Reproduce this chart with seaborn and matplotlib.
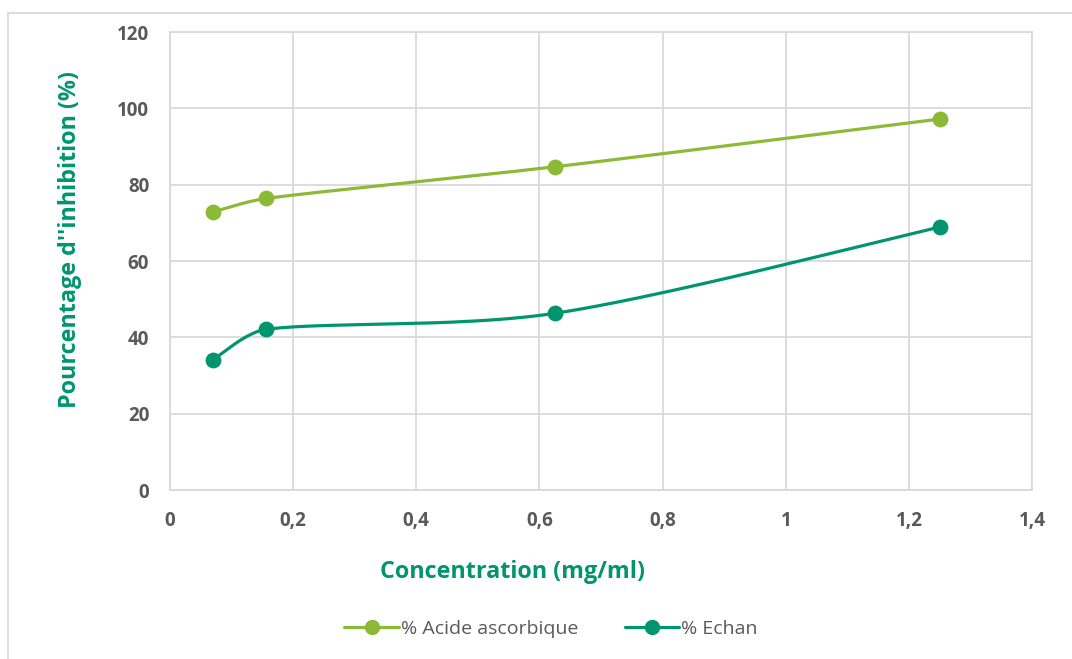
import numpy as np
import pandas as pd
import matplotlib
matplotlib.use("Agg")
import matplotlib.pyplot as plt
from matplotlib.lines import Line2D
from matplotlib.patches import Rectangle
import seaborn as sns

# data
concentration = [0.07, 0.156, 0.625, 1.25]
acide_ascorbique = [72.9, 76.4, 84.7, 97.2]
echan = [34.2, 42.1, 46.3, 68.9]
series_names = ["% Acide ascorbique", "% Echan"]
x_ticks = [0, 0.2, 0.4, 0.6, 0.8, 1, 1.2, 1.4]
y_ticks = [0, 20, 40, 60, 80, 100, 120]

GREEN = "#8CBA36"
TEAL = "#00956F"
GREY_TXT = "#595959"
GRID = "#D9D9D9"

sns.set_theme(style="white")
plt.rcParams["font.family"] = ["Open Sans", "DejaVu Sans"]


def smooth(xs, ys, sx, sy, n=60):
    # Excel-like smoothed line: bezier with catmull-rom tangents, clamped to segment length
    p = np.column_stack([np.array(xs) * sx, np.array(ys) * sy])
    pts = np.vstack([p[0], p, p[-1]])
    out = []
    t = np.linspace(0, 1, n)[:, None]
    for i in range(1, len(pts) - 2):
        p0, p1, p2, p3 = pts[i - 1], pts[i], pts[i + 1], pts[i + 2]
        L = np.linalg.norm(p2 - p1)
        t1 = (p2 - p0) / 6
        t2 = (p3 - p1) / 6
        if np.linalg.norm(t1) > L / 3:
            t1 = t1 / np.linalg.norm(t1) * L / 3
        if np.linalg.norm(t2) > L / 3:
            t2 = t2 / np.linalg.norm(t2) * L / 3
        c1 = p1 + t1
        c2 = p2 - t2
        seg = ((1 - t) ** 3) * p1 + 3 * ((1 - t) ** 2) * t * c1 + 3 * (1 - t) * t ** 2 * c2 + t ** 3 * p2
        out.append(seg if i == 1 else seg[1:])
    out = np.vstack(out)
    return out[:, 0] / sx, out[:, 1] / sy


fig = plt.figure(figsize=(10.72, 6.59), dpi=100)
ax = fig.add_axes([0.1586, 0.2564, 0.8041, 0.695])

# pixel scale factors so the smoothing matches the drawn aspect
sx, sy = 862 / 1.4, 458 / 120
for ys, col in [(acide_ascorbique, GREEN), (echan, TEAL)]:
    cx, cy = smooth(concentration, ys, sx, sy)
    sns.lineplot(x=cx, y=cy, sort=False, color=col, linewidth=2.3, ax=ax, legend=False)
    sns.scatterplot(x=concentration, y=ys, color=col, s=130, edgecolor=col, linewidth=0, ax=ax,
                    legend=False, zorder=5)

ax.set_xlim(0, 1.4)
ax.set_ylim(0, 120)
ax.set_xticks(x_ticks)
ax.set_yticks(y_ticks)
ax.set_xticklabels([("%g" % v).replace(".", ",") for v in x_ticks])
ax.set_yticklabels([str(v) for v in y_ticks])
ax.grid(True, color=GRID, linewidth=1.3)
ax.set_axisbelow(True)
for s in ax.spines.values():
    s.set_color(GRID)
    s.set_linewidth(1.3)
ax.tick_params(axis="both", length=0, labelsize=13.5, labelcolor=GREY_TXT)
ax.tick_params(axis="x", pad=15)
ax.tick_params(axis="y", pad=15)
for lab in ax.get_xticklabels() + ax.get_yticklabels():
    lab.set_fontweight("bold")
ax.set_xlabel("")
ax.set_ylabel("")

fig.text(513 / 1072, 1 - 572 / 659, "Concentration (mg/ml)", fontsize=16.8, fontweight="bold",
         color=TEAL, ha="center", va="center")
fig.text(70 / 1072, 1 - 240 / 659, "Pourcentage d''inhibition (%)", fontsize=16.8, fontweight="bold",
         color=TEAL, ha="center", va="center", rotation=90)

handles = [Line2D([], [], color=GREEN, linewidth=2.3, marker="o", markersize=10),
           Line2D([], [], color=TEAL, linewidth=2.3, marker="o", markersize=10)]
leg = fig.legend(handles, series_names, loc="center", bbox_to_anchor=(0.514, 0.0455), ncol=2,
                 frameon=False, fontsize=14, handlelength=2.8, handletextpad=0.1, columnspacing=2.4)
for t in leg.get_texts():
    t.set_color(GREY_TXT)

# light frame around the whole chart area
fig.patches.append(Rectangle((8 / 1072, -0.01), 1.0, 1 - 13 / 659 + 0.01, transform=fig.transFigure,
                             fill=False, edgecolor=GRID, linewidth=1.3))

fig.savefig("out.png", dpi=100)
